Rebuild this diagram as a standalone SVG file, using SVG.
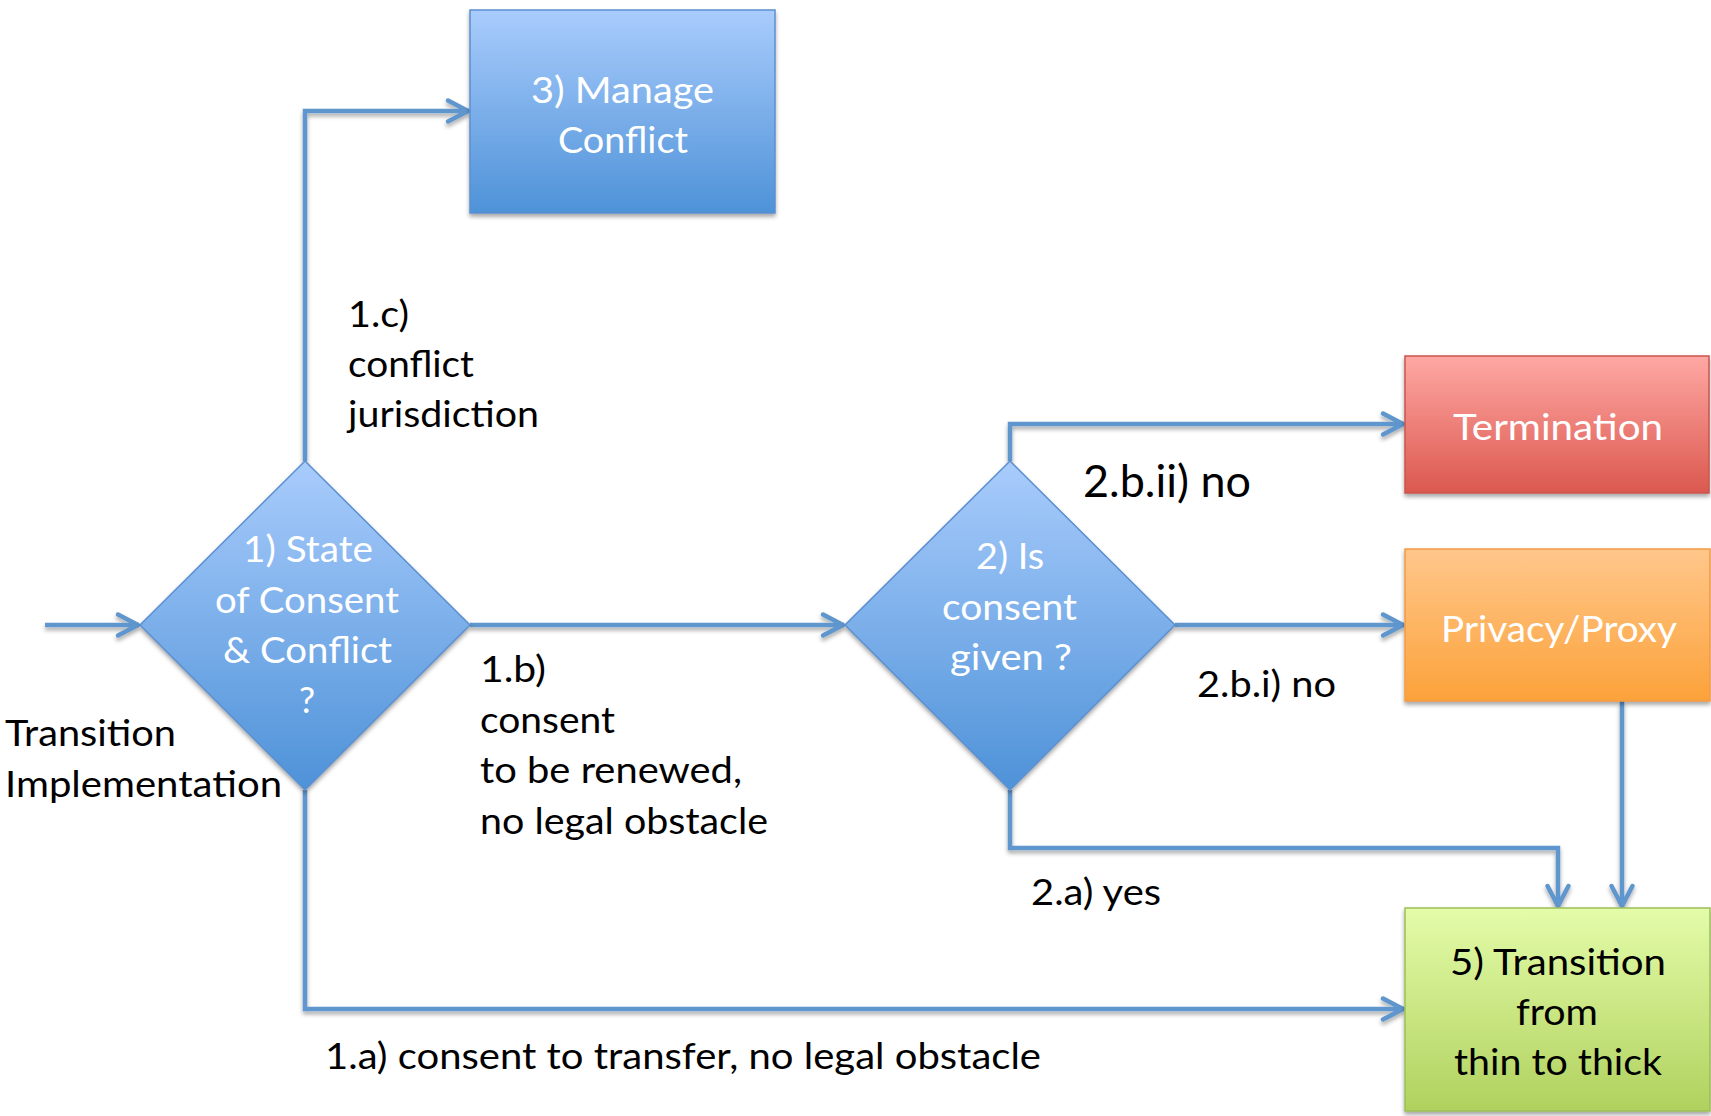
<svg xmlns="http://www.w3.org/2000/svg" width="1711" height="1116" viewBox="0 0 1711 1116">
<defs>
<style>
.lbl{font-family:Lato,"Open Sans","Liberation Sans",sans-serif;font-size:36px;fill:#000}
.big{font-size:44px}
.wt{font-family:Lato,"Open Sans","Liberation Sans",sans-serif;font-size:36px;fill:#fff}
.bk{font-family:Lato,"Open Sans","Liberation Sans",sans-serif;font-size:36px;fill:#000}
.conn{fill:none;stroke:#5F96CD;stroke-width:4.5;stroke-linejoin:miter;marker-end:url(#arr)}
</style>
<linearGradient id="gBlue" x1="0" y1="0" x2="0" y2="1">
<stop offset="0" stop-color="#A9CCFC"/>
<stop offset="1" stop-color="#4E92D8"/>
</linearGradient>
<linearGradient id="gRed" x1="0" y1="0" x2="0" y2="1">
<stop offset="0" stop-color="#FFA8A4"/>
<stop offset="1" stop-color="#DB584E"/>
</linearGradient>
<linearGradient id="gOrange" x1="0" y1="0" x2="0" y2="1">
<stop offset="0" stop-color="#FFC78B"/>
<stop offset="1" stop-color="#FCA23A"/>
</linearGradient>
<linearGradient id="gGreen" x1="0" y1="0" x2="0" y2="1">
<stop offset="0" stop-color="#E4FCA9"/>
<stop offset="1" stop-color="#B0D15E"/>
</linearGradient>
<filter id="sh" x="-10%" y="-10%" width="120%" height="130%">
<feDropShadow dx="0" dy="3" stdDeviation="2" flood-color="#000" flood-opacity="0.35"/>
</filter>
<marker id="arr" markerUnits="userSpaceOnUse" markerWidth="40" markerHeight="40" refX="0" refY="0" viewBox="-30 -20 40 40" orient="auto" overflow="visible">
<path d="M -21 -10.5 L -1 0 L -21 10.5" fill="none" stroke="#5F96CD" stroke-width="4.5" stroke-linecap="round" stroke-linejoin="round"/>
</marker>
</defs>
<rect width="1711" height="1116" fill="#fff"/>

<g id="connectors" filter="url(#sh)">
<path class="conn" d="M 45 625 L 139 625"/>
<path class="conn" d="M 305 461 L 305 111 L 469 111"/>
<path class="conn" d="M 470 625 L 844 625"/>
<path class="conn" d="M 305 790 L 305 1009 L 1404 1009"/>
<path class="conn" d="M 1010 461 L 1010 424 L 1404 424"/>
<path class="conn" d="M 1175 625 L 1404 625"/>
<path class="conn" d="M 1010 790 L 1010 848 L 1558 848 L 1558 907"/>
<path class="conn" d="M 1622 701 L 1622 907"/>
</g>

<g id="node-manage">
<rect x="470" y="10" width="305" height="203" fill="url(#gBlue)" stroke="#5B8FD0" stroke-width="1.5" filter="url(#sh)"/>
<text class="wt" x="531" y="103" textLength="183" lengthAdjust="spacingAndGlyphs">3) Manage</text>
<text class="wt" x="558" y="153" textLength="130" lengthAdjust="spacingAndGlyphs">Conflict</text>
</g>

<g id="node-state">
<polygon points="305,461 470,625 305,790 140,625" fill="url(#gBlue)" stroke="#5B8FD0" stroke-width="1.5" filter="url(#sh)"/>
<text class="wt" x="243" y="562" textLength="130" lengthAdjust="spacingAndGlyphs">1) State</text>
<text class="wt" x="215" y="613" textLength="184" lengthAdjust="spacingAndGlyphs">of Consent</text>
<text class="wt" x="223" y="663" textLength="169" lengthAdjust="spacingAndGlyphs">&amp; Conflict</text>
<text class="wt" x="307" y="713" text-anchor="middle">?</text>
</g>

<g id="node-consent">
<polygon points="1010,461 1175,625 1010,790 845,625" fill="url(#gBlue)" stroke="#5B8FD0" stroke-width="1.5" filter="url(#sh)"/>
<text class="wt" x="976" y="569" textLength="68" lengthAdjust="spacingAndGlyphs">2) Is</text>
<text class="wt" x="942" y="620" textLength="135" lengthAdjust="spacingAndGlyphs">consent</text>
<text class="wt" x="950" y="670" textLength="122" lengthAdjust="spacingAndGlyphs">given ?</text>
</g>

<g id="node-termination">
<rect x="1405" y="356" width="304" height="137" fill="url(#gRed)" stroke="#C9554E" stroke-width="1.5" filter="url(#sh)"/>
<text class="wt" x="1453" y="440" textLength="210" lengthAdjust="spacingAndGlyphs">Termination</text>
</g>

<g id="node-privacy">
<rect x="1405" y="549" width="305" height="152" fill="url(#gOrange)" stroke="#F39A45" stroke-width="1.5" filter="url(#sh)"/>
<text class="wt" x="1441" y="642" textLength="236" lengthAdjust="spacingAndGlyphs">Privacy/Proxy</text>
</g>

<g id="node-transition">
<rect x="1405" y="908" width="305" height="203" fill="url(#gGreen)" stroke="#9DBE58" stroke-width="1.5" filter="url(#sh)"/>
<text class="bk" x="1450" y="975" textLength="216" lengthAdjust="spacingAndGlyphs">5) Transition</text>
<text class="bk" x="1516" y="1025" textLength="82" lengthAdjust="spacingAndGlyphs">from</text>
<text class="bk" x="1454" y="1075" textLength="208" lengthAdjust="spacingAndGlyphs">thin to thick</text>
</g>

<g id="labels">
<text class="lbl" x="348" y="327" textLength="61" lengthAdjust="spacingAndGlyphs">1.c)</text>
<text class="lbl" x="348" y="377" textLength="126" lengthAdjust="spacingAndGlyphs">conflict</text>
<text class="lbl" x="348" y="427" textLength="191" lengthAdjust="spacingAndGlyphs">jurisdiction</text>
<text class="lbl" x="5" y="746" textLength="171" lengthAdjust="spacingAndGlyphs">Transition</text>
<text class="lbl" x="5" y="797" textLength="277" lengthAdjust="spacingAndGlyphs">Implementation</text>
<text class="lbl" x="480" y="682" textLength="66" lengthAdjust="spacingAndGlyphs">1.b)</text>
<text class="lbl" x="480" y="733" textLength="135" lengthAdjust="spacingAndGlyphs">consent</text>
<text class="lbl" x="480" y="783" textLength="262" lengthAdjust="spacingAndGlyphs">to be renewed,</text>
<text class="lbl" x="480" y="834" textLength="288" lengthAdjust="spacingAndGlyphs">no legal obstacle</text>
<text class="lbl" x="325" y="1069" textLength="716" lengthAdjust="spacingAndGlyphs">1.a) consent to transfer, no legal obstacle</text>
<text class="lbl big" x="1083" y="497" textLength="168" lengthAdjust="spacingAndGlyphs">2.b.ii) no</text>
<text class="lbl" x="1197" y="697" textLength="139" lengthAdjust="spacingAndGlyphs">2.b.i) no</text>
<text class="lbl" x="1031" y="905" textLength="130" lengthAdjust="spacingAndGlyphs">2.a) yes</text>
</g>
</svg>
